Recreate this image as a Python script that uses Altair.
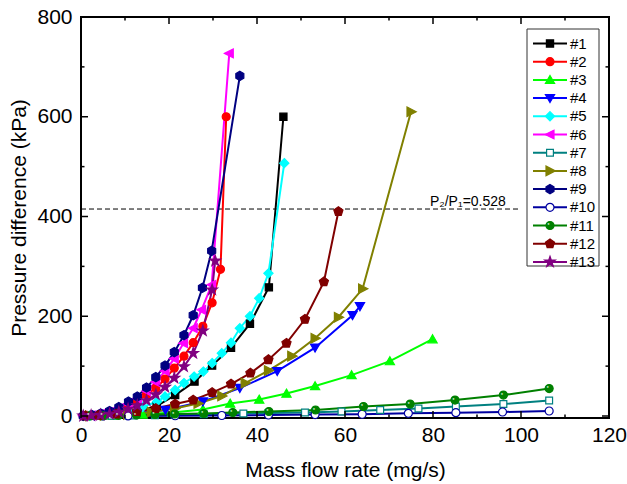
import altair as alt
import pandas as pd

# ---------------- data ----------------
names = ["#1", "#2", "#3", "#4", "#5", "#6", "#7", "#8", "#9", "#10", "#11", "#12", "#13"]

x1 = [2, 5, 9, 13, 17.2, 21.4, 25.8, 29.8, 34.1, 38.4, 42.7, 46.0]
y1 = [0.5, 1.5, 4, 10, 20, 42, 69, 101, 137, 185, 258, 600]

x2 = [0.5, 2.3, 4.4, 6.5, 8.6, 10.7, 12.7, 14.9, 17.0, 19.1, 21.2, 23.4, 25.5, 27.7, 29.8, 31.7, 33.0]
y2 = [0.2, 0.8, 2, 4, 8, 16, 30, 43, 56, 74, 96, 120, 147, 180, 227, 294, 600]

x3 = [2, 7, 14, 20.8, 27.7, 33.9, 40.5, 46.7, 53.2, 61.5, 70.2, 79.9]
y3 = [0.3, 1, 3, 7, 13, 25, 33, 45, 60, 82, 110, 154]

x4 = [3, 10.7, 19.2, 27.7, 36.1, 44.6, 53.2, 61.7, 63.4]
y4 = [0.5, 4, 12, 29, 56, 90, 137, 202, 220]

x5 = [2, 5, 8, 11, 14, 17.3, 19.1, 21.4, 23.4, 25.7, 27.8, 29.8, 32.0, 34.1, 36.1, 38.4, 40.5, 42.6, 46.2]
y5 = [0.5, 2, 5, 10, 18, 29, 39, 52, 66, 79, 89, 106, 126, 147, 176, 200, 236, 286, 507]

x6 = [0.5, 2.3, 4.4, 6.5, 8.6, 10.7, 12.8, 14.9, 17.0, 19.1, 21.2, 23.3, 25.5, 27.4, 29.7, 33.7]
y6 = [0.3, 1.5, 4, 8, 15, 24, 35, 50, 68, 90, 115, 146, 176, 213, 263, 727]

x7 = [2, 7, 12, 16.8, 21.3, 27.9, 36.9, 42.6, 50.9, 59.2, 68, 76.7, 85.2, 96, 106.4]
y7 = [0.2, 0.5, 1, 1.5, 2.5, 3.5, 5, 6, 7, 9, 12, 15, 19, 24, 31]

x8 = [2, 5.3, 10.6, 16, 21.3, 26.6, 32, 37.3, 42.6, 47.9, 53.2, 58.5, 64.0, 75.0]
y8 = [0.3, 1, 3, 8, 15, 25, 40, 66, 91, 120, 156, 198, 255, 610]

x9 = [0.5, 2.5, 4.5, 6.5, 8.6, 10.8, 12.8, 14.9, 17.0, 19.1, 21.2, 23.4, 25.5, 27.6, 29.7, 36.1]
y9 = [0.3, 2, 5, 10, 18, 29, 39, 57, 78, 101, 128, 162, 202, 257, 331, 682]

x10 = [5, 10.7, 21.4, 32, 42.6, 53.2, 63.9, 74.4, 85.2, 95.8, 106.4]
y10 = [0, 0.2, 0.5, 1, 2, 2.8, 3.5, 5.4, 6.7, 8, 10]

x11 = [2, 5, 8.5, 12.6, 16.8, 21.3, 27.9, 34.5, 42.7, 53.3, 64.2, 74.8, 85.0, 96.0, 106.4]
y11 = [0.2, 0.5, 1, 2, 3, 4, 5, 7, 9, 12, 19, 24, 32, 42, 55]

x12 = [1, 4, 8, 12.7, 17.0, 21.4, 25.5, 29.8, 34.1, 38.5, 42.6, 46.7, 50.9, 55.2, 58.5]
y12 = [0.3, 1.5, 4, 9, 15, 24, 32, 47, 64, 86, 113, 146, 194, 269, 410]

x13 = [0.5, 2.3, 4.4, 6.5, 8.6, 10.7, 12.8, 14.9, 17.0, 19.1, 21.2, 23.4, 25.5, 27.7, 29.8, 30.5]
y13 = [0.2, 1, 2, 4, 8, 14, 21, 31, 43, 58, 76, 99, 126, 171, 253, 311]

ratio_y = [415]
ratio_x = [0, 100]
ratio_label = "P\u2082/P\u2081=0.528"
ratio_label_pos = [79.3, 421]

x_ticks_major = [0, 20, 40, 60, 80, 100, 120]
x_ticks_minor = [10, 30, 50, 70, 90, 110]
y_ticks_major = [0, 200, 400, 600, 800]
y_ticks_minor = [100, 300, 500, 700]

# ---------------- styles ----------------
colors = ["#000000", "#ff0000", "#00ff00", "#0000ff", "#00ffff", "#ff00ff", "#008080",
          "#808000", "#000080", "#0000a0", "#008000", "#800000", "#800080"]
fills = ["#000000", "#ff0000", "#00ff00", "#0000ff", "#00ffff", "#ff00ff", "#ffffff",
         "#808000", "#000080", "#ffffff", "#008000", "#800000", "#800080"]

SQUARE = "M-0.9,-0.9H0.9V0.9H-0.9Z"
OSQUARE = "M-0.85,-0.85H0.85V0.85H-0.85Z"
TRI_UP = "M0,-1.1L1.15,0.9L-1.15,0.9Z"
TRI_DOWN = "M0,1.1L1.15,-0.9L-1.15,-0.9Z"
DIAMOND = "M0,-1.15L1.15,0L0,1.15L-1.15,0Z"
TRI_LEFT = "M-1.2,0L1.0,-1.1L1.0,1.1Z"
TRI_RIGHT = "M1.3,0L-1.0,-1.2L-1.0,1.2Z"
HEXAGON = "M0,-1.15L1.0,-0.575L1.0,0.575L0,1.15L-1.0,0.575L-1.0,-0.575Z"
PENTAGON = "M0,-1.2L1.14,-0.37L0.71,0.97L-0.71,0.97L-1.14,-0.37Z"
STAR = ("M0,-1.4L0.33,-0.45L1.33,-0.43L0.53,0.17L0.82,1.13L0,0.56L-0.82,1.13"
        "L-0.53,0.17L-1.33,-0.43L-0.33,-0.45Z")
shapes = [SQUARE, "circle", TRI_UP, TRI_DOWN, DIAMOND, TRI_LEFT, OSQUARE,
          TRI_RIGHT, HEXAGON, "circle", "circle", PENTAGON, STAR]

FONT = "Liberation Sans"
W, H = 528, 401

xs_all = [x1, x2, x3, x4, x5, x6, x7, x8, x9, x10, x11, x12, x13]
ys_all = [y1, y2, y3, y4, y5, y6, y7, y8, y9, y10, y11, y12, y13]
rows = []
for nm, xs, ys in zip(names, xs_all, ys_all):
    for i, (a, b) in enumerate(zip(xs, ys)):
        rows.append({"series": nm, "x": a, "y": b, "i": i})
df = pd.DataFrame(rows)

xscale = alt.Scale(domain=[0, 120], nice=False, zero=False)
yscale = alt.Scale(domain=[-4, 800], nice=False, zero=False)
stroke_scale = alt.Scale(domain=names, range=colors)
fill_scale = alt.Scale(domain=names, range=fills)
shape_scale = alt.Scale(domain=names, range=shapes)

x_axis = alt.Axis(values=x_ticks_major, title="Mass flow rate (mg/s)", grid=False, ticks=False,
                  tickSize=0, domain=False, labelFont=FONT, labelFontSize=21, labelColor="black",
                  labelPadding=6, labelFlush=False, labelOverlap=False,
                  titleFont=FONT, titleFontSize=21, titleFontWeight="normal", titleColor="black",
                  titleBaseline="alphabetic", titleY=58)
y_axis = alt.Axis(values=y_ticks_major, title="Pressure difference (kPa)", grid=False, ticks=False,
                  tickSize=0, domain=False, labelFont=FONT, labelFontSize=21, labelColor="black",
                  labelPadding=9, labelFlush=False, labelOverlap=False,
                  titleFont=FONT, titleFontSize=21, titleFontWeight="normal", titleColor="black",
                  titleBaseline="alphabetic", titleAngle=270, titleAlign="center",
                  titleX=-56, titleY=H / 2)

base = alt.Chart(df)

lines = base.mark_line(strokeWidth=2).encode(
    x=alt.X("x:Q", scale=xscale, axis=x_axis),
    y=alt.Y("y:Q", scale=yscale, axis=y_axis),
    stroke=alt.Stroke("series:N", scale=stroke_scale, legend=None),
    detail="series:N",
    order="i:Q",
)

points = base.mark_point(opacity=1, fillOpacity=1, strokeWidth=1.2, size=64).encode(
    x=alt.X("x:Q", scale=xscale),
    y=alt.Y("y:Q", scale=yscale),
    stroke=alt.Stroke("series:N", scale=stroke_scale, legend=None),
    fill=alt.Fill("series:N", scale=fill_scale, legend=None),
    shape=alt.Shape("series:N", scale=shape_scale, legend=None),
)

sphere_hl = base.transform_filter(alt.datum.series == "#11").mark_text(
    text="\u25cf", fontSize=4, color="#cdeccd", dx=-1.5, dy=-1.5
).encode(x=alt.X("x:Q", scale=xscale), y=alt.Y("y:Q", scale=yscale))

dash_df = pd.DataFrame({"x": [ratio_x[0]], "x2": [ratio_x[1]], "y": ratio_y})
dash = alt.Chart(dash_df).mark_rule(color="black", strokeWidth=1, strokeDash=[5, 3]).encode(
    x=alt.X("x:Q", scale=xscale), x2="x2:Q", y=alt.Y("y:Q", scale=yscale))

lab_df = pd.DataFrame({"x": [ratio_label_pos[0]], "y": [ratio_label_pos[1]], "t": [ratio_label]})
ratio_text = alt.Chart(lab_df).mark_text(align="left", baseline="alphabetic", fontSize=14,
                                         font=FONT + ", DejaVu Sans", color="black").encode(
    x=alt.X("x:Q", scale=xscale), y=alt.Y("y:Q", scale=yscale), text="t:N")


def xticks(vals, length, top):
    d = pd.DataFrame({"t": vals})
    if top:
        yy, yy2 = 0, length
    else:
        yy, yy2 = H, H - length
    return alt.Chart(d).mark_rule(color="black", strokeWidth=1.5).encode(
        x=alt.X("t:Q", scale=xscale), y=alt.value(yy), y2=alt.value(yy2))


def yticks(vals, length, right):
    d = pd.DataFrame({"t": vals})
    if right:
        xx, xx2 = W, W - length
    else:
        xx, xx2 = 0, length
    return alt.Chart(d).mark_rule(color="black", strokeWidth=1.5).encode(
        y=alt.Y("t:Q", scale=yscale), x=alt.value(xx), x2=alt.value(xx2))


tick_layers = [
    xticks(x_ticks_major, 7, False), xticks(x_ticks_minor, 3.5, False),
    xticks(x_ticks_major, 7, True), xticks(x_ticks_minor, 3.5, True),
    yticks(y_ticks_major, 7, False), yticks(y_ticks_minor, 3.5, False),
    yticks(y_ticks_major, 7, True), yticks(y_ticks_minor, 3.5, True),
]

leg_box = alt.Chart(pd.DataFrame({"a": [0]})).mark_rect(
    fill="white", stroke="#333333", strokeWidth=1).encode(
    x=alt.value(446), x2=alt.value(518), y=alt.value(12), y2=alt.value(249))

main = alt.layer(dash, ratio_text, lines, points, sphere_hl, *tick_layers, leg_box)

# ---------------- manual legend ----------------
leg = pd.DataFrame({"series": names})
ly = alt.Y("series:N", scale=alt.Scale(type="point", domain=names, range=[26.5, 244.9], padding=0),
           axis=None)
leg_lines = alt.Chart(leg).mark_rule(strokeWidth=2).encode(
    x=alt.value(452), x2=alt.value(486), y=ly,
    stroke=alt.Stroke("series:N", scale=stroke_scale, legend=None))
leg_pts = alt.Chart(leg).mark_point(opacity=1, fillOpacity=1, strokeWidth=1.2, size=64).encode(
    x=alt.value(469), y=ly,
    stroke=alt.Stroke("series:N", scale=stroke_scale, legend=None),
    fill=alt.Fill("series:N", scale=fill_scale, legend=None),
    shape=alt.Shape("series:N", scale=shape_scale, legend=None))
leg_hl = alt.Chart(leg).transform_filter(alt.datum.series == "#11").mark_text(
    text="\u25cf", fontSize=4, color="#cdeccd", dx=-1.5, dy=-1.5).encode(x=alt.value(469), y=ly)
leg_text = alt.Chart(leg).mark_text(align="left", baseline="middle", fontSize=15, font=FONT,
                                    color="black").encode(
    x=alt.value(489), y=ly, text="series:N")
legend = alt.layer(leg_lines, leg_pts, leg_hl, leg_text)

chart = alt.layer(main, legend).resolve_scale(y="independent").properties(
    width=W, height=H,
    padding={"left": 81, "top": 17, "right": 18, "bottom": 66},
    autosize="none",
    background="white",
).configure_view(stroke="black", strokeWidth=2)

chart.save("out.html", embed_options={"renderer": "svg", "actions": False})
